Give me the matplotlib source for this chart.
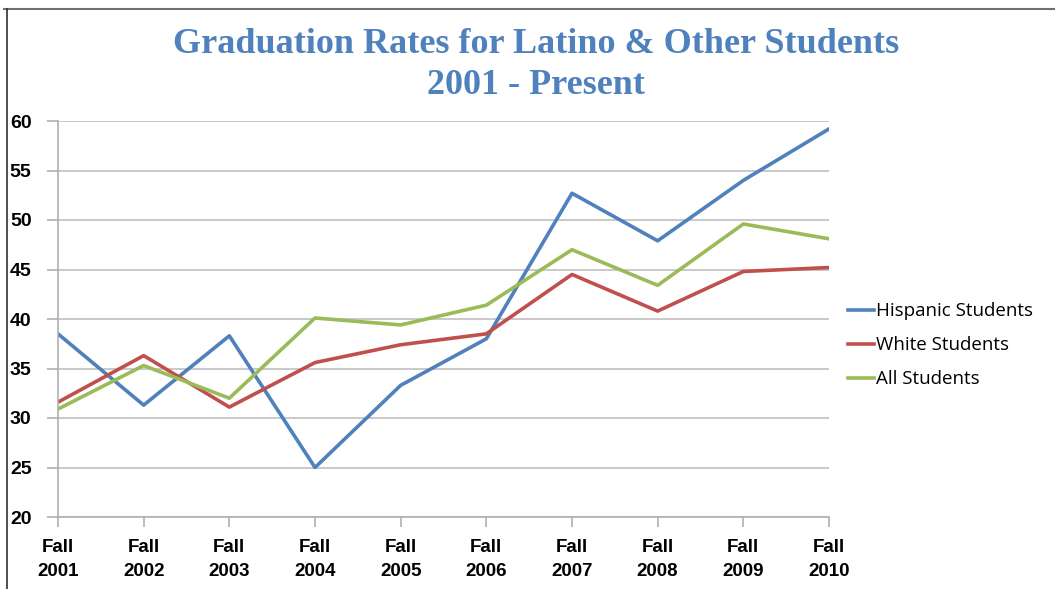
import numpy as np
import matplotlib.pyplot as plt
from matplotlib.lines import Line2D

# ---- data ----
years = ['Fall\n2001', 'Fall\n2002', 'Fall\n2003', 'Fall\n2004', 'Fall\n2005',
         'Fall\n2006', 'Fall\n2007', 'Fall\n2008', 'Fall\n2009', 'Fall\n2010']
hispanic = [38.5, 31.3, 38.3, 25.0, 33.3, 38.0, 52.7, 47.9, 54.0, 59.2]
white = [31.6, 36.3, 31.1, 35.6, 37.4, 38.5, 44.5, 40.8, 44.8, 45.2]
all_students = [30.9, 35.3, 32.0, 40.1, 39.4, 41.4, 47.0, 43.4, 49.6, 48.1]
y_ticks = [20, 25, 30, 35, 40, 45, 50, 55, 60]

W, H = 1055, 589
fig = plt.figure(figsize=(W / 100, H / 100), dpi=100)
ax = fig.add_axes([58 / W, 1 - 517 / H, (829 - 58) / W, (517 - 121) / H])

x = np.arange(len(years))
ax.plot(x, hispanic, color='#4F81BD', lw=2.6, label='Hispanic Students')
ax.plot(x, white, color='#C0504D', lw=2.6, label='White Students')
ax.plot(x, all_students, color='#9BBB59', lw=2.6, label='All Students')

ax.set_xlim(0, len(years) - 1)
ax.set_ylim(20, 60)
ax.set_yticks(y_ticks)
ax.set_xticks(x)
ax.set_xticklabels(years, fontsize=13.5, fontweight='bold',
                   family='Liberation Sans', linespacing=1.55)
ax.set_yticklabels([str(v) for v in y_ticks], fontsize=14,
                   fontweight='bold', family='Liberation Sans')

ax.yaxis.grid(True, color='#C0C0C0', lw=1.2)
ax.set_axisbelow(True)
for side in ['top', 'right']:
    ax.spines[side].set_visible(False)
for side in ['left', 'bottom']:
    ax.spines[side].set_color('#B0B0B0')
    ax.spines[side].set_linewidth(1.2)
ax.tick_params(axis='y', length=8, color='#B0B0B0', width=1.2, pad=11)
ax.tick_params(axis='x', length=7, color='#B0B0B0', width=1.2, pad=9)

leg = ax.legend(loc='center left', bbox_to_anchor=(1.0, 0.434), frameon=False,
                prop={'family': 'Open Sans', 'size': 13.5},
                handlelength=1.4, handletextpad=0.1, labelspacing=0.85,
                borderaxespad=0.6)

fig.text(0.508, 1 - 65 / H,
         'Graduation Rates for Latino & Other Students\n2001 - Present',
         ha='center', va='center', fontsize=26, fontweight='bold',
         family='Liberation Serif', color='#4F81BD', linespacing=1.3)

# screenshot frame lines (top and left)
fig.add_artist(Line2D([4 / W, 1], [1 - 9 / H, 1 - 9 / H],
                      transform=fig.transFigure, color='#707070', lw=1.5))
fig.add_artist(Line2D([7 / W, 7 / W], [0, 1 - 9 / H],
                      transform=fig.transFigure, color='#303030', lw=1.2))

fig.savefig('out.png', dpi=100)
